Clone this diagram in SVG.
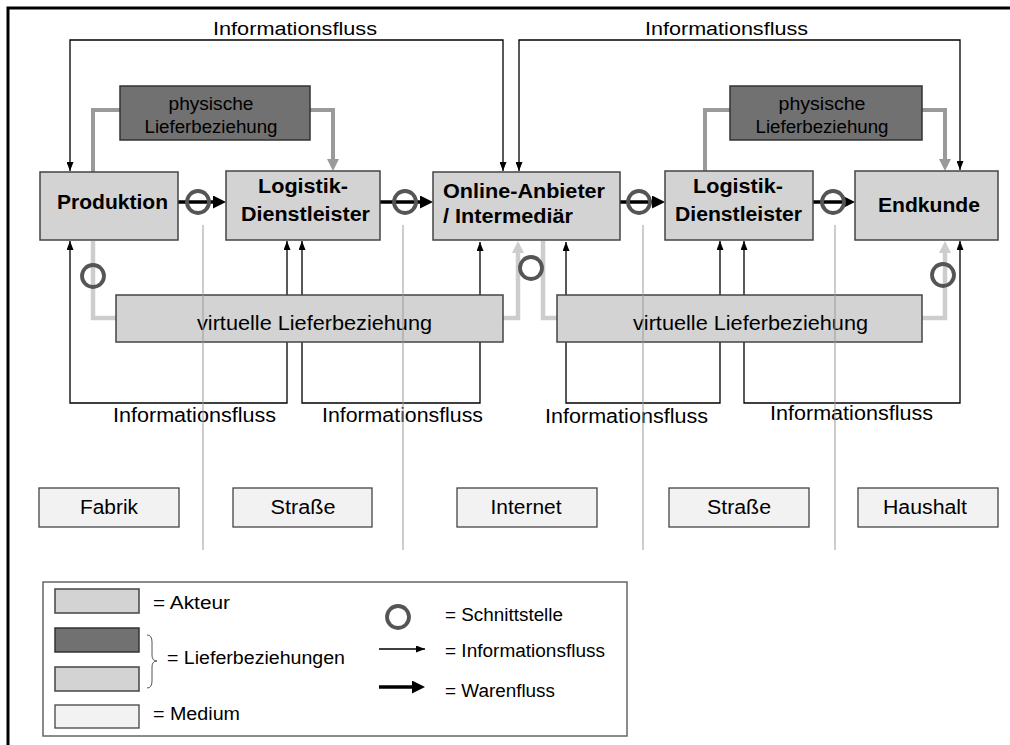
<svg xmlns="http://www.w3.org/2000/svg" width="1010" height="745" viewBox="0 0 1010 745">
<defs>
<style>
text{font-family:"Liberation Sans",Arial,sans-serif;fill:#000}
.b{font-weight:bold;font-size:20px}
.s17{font-size:18px}
.s19{font-size:20px}
.actor{fill:#d3d3d3;stroke:#444;stroke-width:1.5}
.phys{fill:#717171;stroke:#333;stroke-width:1.5}
.medium{fill:#f2f2f2;stroke:#444;stroke-width:1.3}
.info{fill:none;stroke:#000;stroke-width:1.3;marker-start:url(#ai);marker-end:url(#ai)}
.ware{fill:none;stroke:#000;stroke-width:3.5;marker-end:url(#aw)}
.pcon{fill:none;stroke:#9a9a9a;stroke-width:4}
.vcon{fill:none;stroke:#cdcdcd;stroke-width:4.5}
.ring{fill:none;stroke:#555;stroke-width:3.8}
.sep{stroke:#9a9a9a;stroke-width:1}
</style>
<marker id="ai" viewBox="0 0 9 7" refX="9" refY="3.5" markerWidth="9" markerHeight="7" markerUnits="userSpaceOnUse" orient="auto-start-reverse"><path d="M0,0 L9,3.5 L0,7z" fill="#000"/></marker>
<marker id="aw" viewBox="0 0 13 13" refX="3" refY="6.5" markerWidth="13" markerHeight="13" markerUnits="userSpaceOnUse" orient="auto"><path d="M0,0 L13,6.5 L0,13z" fill="#000"/></marker>
<marker id="ap" viewBox="0 0 12 12" refX="3" refY="6" markerWidth="12" markerHeight="12" markerUnits="userSpaceOnUse" orient="auto"><path d="M0,0 L12,6 L0,12z" fill="#9a9a9a"/></marker>
<marker id="av" viewBox="0 0 12 12" refX="3" refY="6" markerWidth="12" markerHeight="12" markerUnits="userSpaceOnUse" orient="auto"><path d="M0,0 L12,6 L0,12z" fill="#cdcdcd"/></marker>
</defs>
<rect x="0" y="0" width="1010" height="745" fill="#fff"/>
<rect x="8" y="8" width="1010" height="750" fill="none" stroke="#000" stroke-width="3"/>

<g id="connectors">
<path class="info" d="M70,171 V40 H503 V171"/>
<path class="info" d="M519,171 V40 H960 V170"/>
<path class="info" d="M70,241 V403 H287 V241"/>
<path class="info" d="M302,241 V403 H480 V242"/>
<path class="info" d="M566,242 V403 H720 V241"/>
<path class="info" d="M744,241 V403 H960 V241"/>
<path class="pcon" d="M93,172 V110 H120"/>
<path class="pcon" d="M310,110 H333 V162" marker-end="url(#ap)"/>
<path class="pcon" d="M705,171 V110 H730"/>
<path class="pcon" d="M922,110 H945 V162" marker-end="url(#ap)"/>
<path class="vcon" d="M93,241 V318 H116"/>
<path class="vcon" d="M503,318 H518 V250" marker-end="url(#av)"/>
<path class="vcon" d="M543,241 V318 H557"/>
<path class="vcon" d="M922,318 H945 V250" marker-end="url(#av)"/>
<path class="ware" d="M178,202 H216"/>
<path class="ware" d="M380,202 H423"/>
<path class="ware" d="M620,202 H655"/>
<path class="ware" d="M813,202 H845"/>
<circle class="ring" cx="198" cy="202" r="11"/>
<circle class="ring" cx="405" cy="202" r="11"/>
<circle class="ring" cx="639" cy="202" r="11"/>
<circle class="ring" cx="833" cy="202" r="11"/>
<circle class="ring" cx="93" cy="276" r="11"/>
<circle class="ring" cx="531" cy="268" r="11"/>
<circle class="ring" cx="943" cy="275" r="11"/>
<text class="s17" x="213" y="35" textLength="164" lengthAdjust="spacingAndGlyphs">Informationsfluss</text>
<text class="s17" x="645" y="35" textLength="163" lengthAdjust="spacingAndGlyphs">Informationsfluss</text>
<text class="s19" x="113" y="422" textLength="163" lengthAdjust="spacingAndGlyphs">Informationsfluss</text>
<text class="s19" x="322" y="422" textLength="161" lengthAdjust="spacingAndGlyphs">Informationsfluss</text>
<text class="s19" x="545" y="423" textLength="163" lengthAdjust="spacingAndGlyphs">Informationsfluss</text>
<text class="s19" x="770" y="420" textLength="163" lengthAdjust="spacingAndGlyphs">Informationsfluss</text>
</g>

<g id="phys1">
<rect class="phys" x="120" y="86" width="190" height="54"/>
<text class="s17" x="211" y="110" text-anchor="middle" textLength="85" lengthAdjust="spacingAndGlyphs">physische</text>
<text class="s17" x="211" y="133" text-anchor="middle" textLength="133" lengthAdjust="spacingAndGlyphs">Lieferbeziehung</text>
</g>
<g id="phys2">
<rect class="phys" x="730" y="86" width="192" height="54"/>
<text class="s17" x="822" y="110" text-anchor="middle" textLength="87" lengthAdjust="spacingAndGlyphs">physische</text>
<text class="s17" x="822" y="133" text-anchor="middle" textLength="133" lengthAdjust="spacingAndGlyphs">Lieferbeziehung</text>
</g>

<g id="produktion">
<rect class="actor" x="40" y="172" width="138" height="68"/>
<text class="b" x="57" y="209" textLength="111" lengthAdjust="spacingAndGlyphs">Produktion</text>
</g>
<g id="logistik1">
<rect class="actor" x="226" y="171" width="154" height="69"/>
<text class="b" x="258" y="193" textLength="90" lengthAdjust="spacingAndGlyphs">Logistik-</text>
<text class="b" x="241" y="221" textLength="129" lengthAdjust="spacingAndGlyphs">Dienstleister</text>
</g>
<g id="online">
<rect class="actor" x="433" y="172" width="187" height="68"/>
<text class="b" x="443" y="198" textLength="162" lengthAdjust="spacingAndGlyphs">Online-Anbieter</text>
<text class="b" x="443" y="223" textLength="130" lengthAdjust="spacingAndGlyphs">/ Intermediär</text>
</g>
<g id="logistik2">
<rect class="actor" x="665" y="171" width="148" height="69"/>
<text class="b" x="693" y="193" textLength="90" lengthAdjust="spacingAndGlyphs">Logistik-</text>
<text class="b" x="675" y="221" textLength="127" lengthAdjust="spacingAndGlyphs">Dienstleister</text>
</g>
<g id="endkunde">
<rect class="actor" x="855" y="171" width="143" height="69"/>
<text class="b" x="878" y="212" textLength="102" lengthAdjust="spacingAndGlyphs">Endkunde</text>
</g>

<g id="virt1">
<rect class="actor" x="116" y="295" width="387" height="47"/>
<text class="s19" x="197" y="330" textLength="235" lengthAdjust="spacingAndGlyphs">virtuelle Lieferbeziehung</text>
</g>
<g id="virt2">
<rect class="actor" x="557" y="295" width="365" height="47"/>
<text class="s19" x="633" y="330" textLength="235" lengthAdjust="spacingAndGlyphs">virtuelle Lieferbeziehung</text>
</g>

<g id="fabrik">
<rect class="medium" x="39" y="488" width="140" height="39"/>
<text class="s19" x="109" y="514" text-anchor="middle" textLength="58" lengthAdjust="spacingAndGlyphs">Fabrik</text>
</g>
<g id="strasse1">
<rect class="medium" x="233" y="488" width="139" height="39"/>
<text class="s19" x="303" y="514" text-anchor="middle" textLength="65" lengthAdjust="spacingAndGlyphs">Straße</text>
</g>
<g id="internet">
<rect class="medium" x="457" y="488" width="140" height="39"/>
<text class="s19" x="526" y="514" text-anchor="middle" textLength="71" lengthAdjust="spacingAndGlyphs">Internet</text>
</g>
<g id="strasse2">
<rect class="medium" x="669" y="488" width="140" height="39"/>
<text class="s19" x="739" y="514" text-anchor="middle" textLength="64" lengthAdjust="spacingAndGlyphs">Straße</text>
</g>
<g id="haushalt">
<rect class="medium" x="858" y="488" width="140" height="39"/>
<text class="s19" x="925" y="514" text-anchor="middle" textLength="84" lengthAdjust="spacingAndGlyphs">Haushalt</text>
</g>

<g id="separators">
<line class="sep" x1="203" y1="225" x2="203" y2="550"/>
<line class="sep" x1="403" y1="225" x2="403" y2="550"/>
<line class="sep" x1="643" y1="225" x2="643" y2="550"/>
<line class="sep" x1="835" y1="225" x2="835" y2="550"/>
</g>

<g id="legend">
<rect x="43" y="582" width="584" height="154" fill="#fff" stroke="#666" stroke-width="1.5"/>
<rect class="actor" x="55" y="589" width="84" height="24"/>
<rect class="phys" x="55" y="628" width="84" height="24"/>
<rect class="actor" x="55" y="667" width="84" height="24"/>
<rect class="medium" x="55" y="705" width="84" height="23"/>
<path d="M147,635 Q152,635 152,642 V655 Q152,661 157,661 Q152,661 152,667 V681 Q152,688 147,688" fill="none" stroke="#555" stroke-width="1"/>
<text class="s17" x="153" y="609" textLength="77" lengthAdjust="spacingAndGlyphs">= Akteur</text>
<text class="s17" x="167" y="664" textLength="178" lengthAdjust="spacingAndGlyphs">= Lieferbeziehungen</text>
<text class="s17" x="153" y="720" textLength="87" lengthAdjust="spacingAndGlyphs">= Medium</text>
<circle class="ring" cx="398" cy="617" r="11"/>
<path d="M379,649 H425" fill="none" stroke="#000" stroke-width="1.3" marker-end="url(#ai)"/>
<path class="ware" d="M379,687 H415"/>
<text class="s17" x="445" y="621" textLength="118" lengthAdjust="spacingAndGlyphs">= Schnittstelle</text>
<text class="s17" x="445" y="657" textLength="160" lengthAdjust="spacingAndGlyphs">= Informationsfluss</text>
<text class="s17" x="445" y="697" textLength="110" lengthAdjust="spacingAndGlyphs">= Warenfluss</text>
</g>
</svg>
